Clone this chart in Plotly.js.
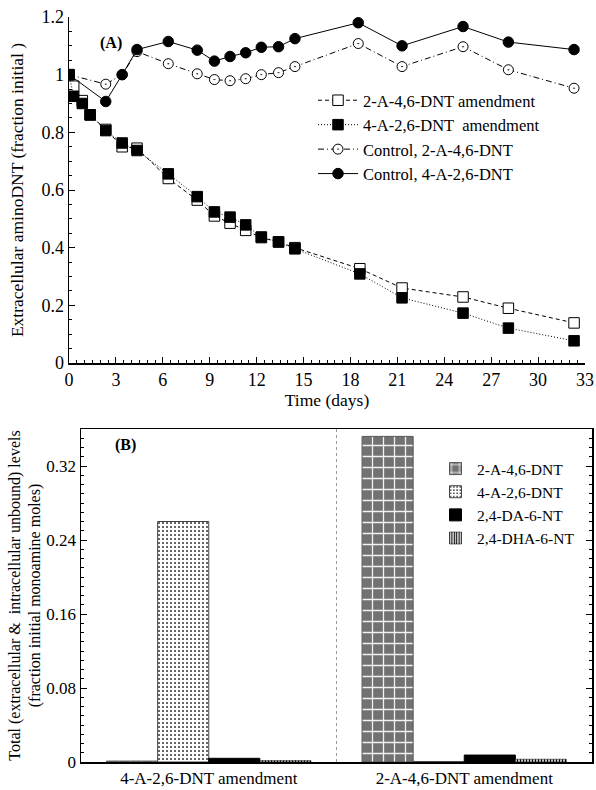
<!DOCTYPE html>
<html>
<head>
<meta charset="utf-8">
<script src="https://cdn.plot.ly/plotly-3.0.1.min.js"></script>
<style>html,body{margin:0;padding:0;background:#fff;}#chart{width:596px;height:790px;}</style>
</head>
<body>
<div id="chart"></div>
<script>
// ---------- Panel A data ----------
const amendDays = [0, 0.3, 0.85, 1.35, 2.35, 3.4, 4.35, 6.35, 8.2, 9.3, 10.3, 11.3, 12.3, 13.4, 14.45, 18.6, 21.3, 25.2, 28.1, 32.3];
const amend2A46 = [1.0, 0.96, 0.91, 0.86, 0.81, 0.75, 0.745, 0.64, 0.565, 0.51, 0.485, 0.46, 0.435, 0.42, 0.40, 0.327, 0.26, 0.229, 0.19, 0.139];
const amend4A26 = [1.0, 0.925, 0.90, 0.861, 0.806, 0.763, 0.737, 0.656, 0.577, 0.524, 0.506, 0.479, 0.437, 0.42, 0.396, 0.309, 0.226, 0.173, 0.121, 0.077];
const controlDays = [0, 2.35, 3.4, 4.35, 6.35, 8.2, 9.3, 10.3, 11.3, 12.3, 13.4, 14.45, 18.5, 21.3, 25.2, 28.1, 32.3];
const control2A46 = [1.0, 0.967, 1.0, 1.08, 1.038, 1.003, 0.983, 0.979, 0.986, 1.0, 1.007, 1.028, 1.108, 1.028, 1.097, 1.017, 0.953];
const control4A26 = [1.0, 0.907, 1.0, 1.087, 1.115, 1.085, 1.047, 1.063, 1.076, 1.095, 1.097, 1.125, 1.18, 1.10, 1.167, 1.113, 1.087];
const seriesA = ["2-A-4,6-DNT amendment", "4-A-2,6-DNT  amendment", "Control, 2-A-4,6-DNT", "Control, 4-A-2,6-DNT"];

// ---------- Panel B data ----------
const groupsB = ["4-A-2,6-DNT amendment", "2-A-4,6-DNT amendment"];
const speciesB = ["2-A-4,6-DNT", "4-A-2,6-DNT", "2,4-DA-6-NT", "2,4-DHA-6-NT"];
const val2A46 = [0.001, 0.352];
const val4A26 = [0.26, 0.0005];
const valDA = [0.004, 0.0075];
const valDHA = [0.0015, 0.003];

const serif = "Liberation Serif, Times New Roman, serif";
const lineW = 1;

const traces = [
  {x: amendDays, y: amend2A46, name: seriesA[0], type: 'scatter', mode: 'lines+markers',
   line: {color: '#000', width: lineW, dash: '4px,3px'},
   marker: {symbol: 'square', size: 10.5, color: '#fff', line: {color: '#000', width: 1}},
   xaxis: 'x', yaxis: 'y', legend: 'legend'},
  {x: amendDays, y: amend4A26, name: seriesA[1], type: 'scatter', mode: 'lines+markers',
   line: {color: '#000', width: lineW, dash: '1px,2px'},
   marker: {symbol: 'square', size: 10.5, color: '#000', line: {color: '#000', width: 1}},
   xaxis: 'x', yaxis: 'y', legend: 'legend'},
  {x: controlDays, y: control2A46, name: seriesA[2], type: 'scatter', mode: 'lines+markers',
   line: {color: '#000', width: lineW, dash: '6px,3px,1px,3px'},
   marker: {symbol: 'circle-dot', size: 10, color: '#fff', line: {color: '#000', width: 1}},
   xaxis: 'x', yaxis: 'y', legend: 'legend'},
  {x: controlDays, y: control4A26, name: seriesA[3], type: 'scatter', mode: 'lines+markers',
   line: {color: '#000', width: lineW},
   marker: {symbol: 'circle', size: 10.5, color: '#000', line: {color: '#000', width: 1}},
   xaxis: 'x', yaxis: 'y', legend: 'legend'},
  {x: groupsB, y: val2A46, name: speciesB[0], type: 'bar', xaxis: 'x2', yaxis: 'y2', legend: 'legend2',
   marker: {color: '#808080', line: {color: '#555', width: 1},
            pattern: {shape: '+', fgcolor: '#f2f2f2', bgcolor: '#727272', size: 11, solidity: 0.22}}},
  {x: groupsB, y: val4A26, name: speciesB[1], type: 'bar', xaxis: 'x2', yaxis: 'y2', legend: 'legend2',
   marker: {color: '#fff', line: {color: '#444', width: 1},
            pattern: {shape: '.', fgcolor: '#333', bgcolor: '#fff', size: 4, solidity: 0.2}}},
  {x: groupsB, y: valDA, name: speciesB[2], type: 'bar', xaxis: 'x2', yaxis: 'y2', legend: 'legend2',
   marker: {color: '#000', line: {color: '#000', width: 1}}},
  {x: groupsB, y: valDHA, name: speciesB[3], type: 'bar', xaxis: 'x2', yaxis: 'y2', legend: 'legend2',
   marker: {color: '#fff', line: {color: '#000', width: 0.5},
            pattern: {shape: '|', fgcolor: '#000', bgcolor: '#fff', size: 3, solidity: 0.5}}}
];

const W = 596, H = 790;
const fx = p => p / W;
const fy = p => (H - p) / H;

const layout = {
  width: W, height: H,
  margin: {l: 0, r: 0, t: 0, b: 0},
  paper_bgcolor: '#fff', plot_bgcolor: 'rgba(0,0,0,0)',
  font: {family: serif, size: 15, color: '#000'},
  bargap: 0.2, bargroupgap: 0,
  xaxis: {
    domain: [fx(69), fx(585)], anchor: 'y', range: [0, 33],
    tickmode: 'linear', tick0: 0, dtick: 3,
    ticks: 'inside', ticklen: 6, tickcolor: '#000', tickwidth: 1,
    minor: {dtick: 0.5, ticks: 'inside', ticklen: 3, tickcolor: '#000'},
    showline: true, linecolor: '#000', linewidth: 1.5,
    showgrid: false, zeroline: false,
    tickfont: {family: serif, size: 18},
    title: {text: 'Time (days)', font: {family: serif, size: 17.5}, standoff: 4}
  },
  yaxis: {
    domain: [fy(363), fy(17)], anchor: 'x', range: [0, 1.2],
    tickmode: 'linear', tick0: 0, dtick: 0.2,
    ticks: 'inside', ticklen: 6, tickcolor: '#000', tickwidth: 1,
    minor: {dtick: 0.05, ticks: 'inside', ticklen: 3, tickcolor: '#000'},
    showline: true, linecolor: '#000', linewidth: 1.5,
    showgrid: false, zeroline: false,
    tickfont: {family: serif, size: 18},
    title: {text: 'Extracellular aminoDNT (fraction initial )', font: {family: serif, size: 17.5}, standoff: 13}
  },
  xaxis2: {
    domain: [fx(81), fx(592)], anchor: 'y2', range: [-0.5, 1.5], type: 'category',
    ticks: '', showline: true, mirror: true, linecolor: '#000', linewidth: 1.5,
    showgrid: false, zeroline: false,
    tickfont: {family: serif, size: 17}
  },
  yaxis2: {
    domain: [fy(762), fy(429)], anchor: 'x2', range: [0, 0.36],
    tickmode: 'linear', tick0: 0, dtick: 0.08,
    ticks: 'inside', ticklen: 6, tickcolor: '#000', tickwidth: 1,
    minor: {dtick: 0.01, ticks: 'inside', ticklen: 3, tickcolor: '#000'},
    showline: true, mirror: 'ticks', linecolor: '#000', linewidth: 1.5,
    showgrid: false, zeroline: false,
    tickfont: {family: serif, size: 17},
    title: {text: 'Total (extracellular &  intracellular unbound) levels<br>(fraction initial monoamine moles)',
            font: {family: serif, size: 16}, standoff: 1}
  },
  legend: {
    x: fx(313), y: fy(83), xanchor: 'left', yanchor: 'top',
    bgcolor: 'rgba(0,0,0,0)', font: {family: serif, size: 16.5},
    tracegroupgap: 0, itemwidth: 40
  },
  legend2: {
    x: fx(434), y: fy(452), xanchor: 'left', yanchor: 'top',
    bgcolor: 'rgba(0,0,0,0)', font: {family: serif, size: 15.5},
    tracegroupgap: 0, itemwidth: 33
  },
  annotations: [
    {text: '<b>(A)</b>', x: fx(98), y: fy(32), xref: 'paper', yref: 'paper',
     showarrow: false, font: {family: serif, size: 16}},
    {text: '<b>(B)</b>', x: fx(113), y: fy(445), xref: 'paper', yref: 'paper',
     showarrow: false, font: {family: serif, size: 16}}
  ],
  shapes: [
    {type: 'line', xref: 'x2', yref: 'y2 domain', x0: 0.5, x1: 0.5, y0: 0, y1: 1,
     line: {color: '#999', width: 1, dash: 'dot'}}
  ]
};

Plotly.newPlot('chart', traces, layout, {displayModeBar: false, staticPlot: true});
</script>
</body>
</html>
